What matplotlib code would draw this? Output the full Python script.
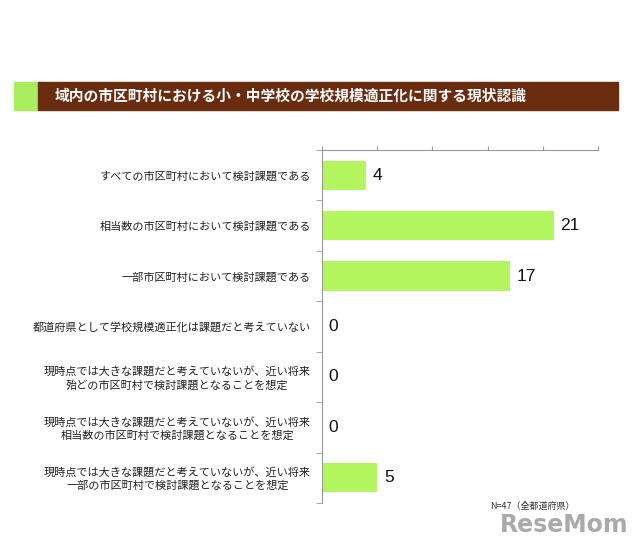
import matplotlib
matplotlib.use('Agg')
import matplotlib.pyplot as plt
import numpy as np

plt.rcParams['font.family'] = ['Noto Sans CJK JP', 'DejaVu Sans']

title = '域内の市区町村における小・中学校の学校規模適正化に関する現状認識'
categories = [
    'すべての市区町村において検討課題である',
    '相当数の市区町村において検討課題である',
    '一部市区町村において検討課題である',
    '都道府県として学校規模適正化は課題だと考えていない',
    '現時点では大きな課題だと考えていないが、近い将来\n殆どの市区町村で検討課題となることを想定',
    '現時点では大きな課題だと考えていないが、近い将来\n相当数の市区町村で検討課題となることを想定',
    '現時点では大きな課題だと考えていないが、近い将来\n一部の市区町村で検討課題となることを想定',
]
values = [4, 21, 17, 0, 0, 0, 5]
note = 'N=47（全都道府県）'

bar_color = '#B2F55F'
brown = '#6A2C0F'

fig = plt.figure(figsize=(6.4, 5.44), dpi=100)

# title banner
fig.patches.append(plt.Rectangle((14/640, 1-110/544), 24/640, 28/544,
                                 transform=fig.transFigure, color='#A9EE5E'))
fig.patches.append(plt.Rectangle((38/640, 1-110/544), 580/640, 28/544,
                                 transform=fig.transFigure, color=brown))
fig.text(55/640, 1-96/544, title, color='white', fontsize=10.6,
         fontweight='bold', va='center', ha='left')

ax = fig.add_axes([322/640, 1-503/544, 276/640, 353/544])
y = np.arange(len(categories))
ax.barh(y, values, height=0.58, color=bar_color)
ax.set_ylim(len(categories)-0.5, -0.5)
ax.set_xlim(0, 25)

for i, v in enumerate(values):
    ax.text(v + 0.6, i, str(v), va='center', ha='left', fontsize=12.5,
            family=['Liberation Sans', 'DejaVu Sans'], color='#111111')

ax.xaxis.tick_top()
ax.set_xticks([0, 5, 10, 15, 20, 25])
ax.set_xticklabels([])
ax.tick_params(axis='x', length=3, color='#999999', direction='out')

ax.set_yticks(y)
ax.set_yticklabels(categories, fontsize=8, multialignment='center', color='#222222')
ax.tick_params(axis='y', which='major', length=0, pad=8)
ax.set_yticks(np.arange(len(categories)+1) - 0.5, minor=True)
ax.tick_params(axis='y', which='minor', length=4, color='#999999', direction='out')

for s in ['bottom', 'right']:
    ax.spines[s].set_visible(False)
for s in ['top', 'left']:
    ax.spines[s].set_color('#999999')
    ax.spines[s].set_linewidth(0.8)

fig.text(490/640, 1-506/544, note, fontsize=6.5, color='#333333', va='center')
fig.text(500/640, 1-525/544, 'ReseMom', fontsize=17, fontweight='bold',
         color='#AAAAAA', va='center', family=['DejaVu Sans'])

fig.savefig('out.png', dpi=100)
